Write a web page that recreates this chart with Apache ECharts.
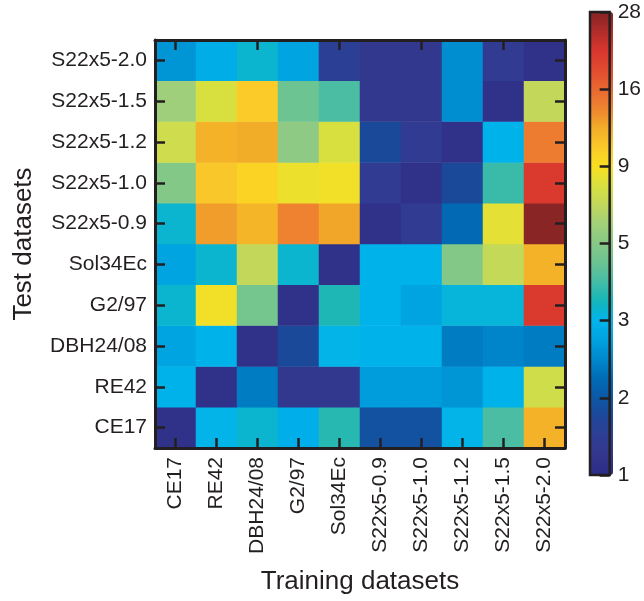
<!doctype html>
<html>
<head>
<meta charset="utf-8">
<script src="https://cdn.jsdelivr.net/npm/echarts@6/dist/echarts.min.js"></script>
<style>
  html, body { margin: 0; padding: 0; background: #fff; }
  #chart { width: 644px; height: 601px; }
</style>
</head>
<body>
<div id="chart"></div>
<script>
// datasets, listed bottom -> top on the y axis and left -> right on the x axis
const datasets = ['CE17', 'RE42', 'DBH24/08', 'G2/97', 'Sol34Ec',
  'S22x5-0.9', 'S22x5-1.0', 'S22x5-1.2', 'S22x5-1.5', 'S22x5-2.0'];

// one row per test dataset, values per training dataset (same order as datasets)
const testCE17     = [1.05, 3.0, 3.2, 2.85, 3.6, 1.6, 1.6, 3.0, 4.0, 11.7];
const testRE42     = [2.9, 1.05, 2.1, 1.15, 1.15, 2.5, 2.5, 2.4, 2.9, 7.5];
const testDBH2408  = [2.6, 2.9, 1.05, 1.5, 3.0, 2.9, 2.9, 2.1, 2.2, 2.1];
const testG297     = [3.2, 8.8, 4.7, 1.05, 3.5, 2.9, 2.6, 3.1, 3.1, 20.5];
const testSol34Ec  = [2.6, 3.2, 6.9, 3.2, 1.05, 2.9, 2.9, 5.1, 7.0, 11.7];
const testS22x5_09 = [3.2, 12.7, 11.5, 14.0, 12.3, 1.05, 1.2, 1.9, 8.3, 27.5];
const testS22x5_10 = [5.1, 10.5, 9.8, 8.6, 8.8, 1.2, 1.05, 1.5, 3.8, 20.5];
const testS22x5_12 = [7.4, 11.7, 12.0, 5.4, 7.9, 1.5, 1.2, 1.05, 2.9, 14.5];
const testS22x5_15 = [5.9, 7.9, 10.3, 4.5, 4.0, 1.15, 1.15, 2.3, 1.05, 6.9];
const testS22x5_20 = [2.4, 2.8, 3.2, 2.6, 1.3, 1.15, 1.15, 2.3, 1.2, 1.05];

const rows = [testCE17, testRE42, testDBH2408, testG297, testSol34Ec,
  testS22x5_09, testS22x5_10, testS22x5_12, testS22x5_15, testS22x5_20];

// colour bar: log scale, 7 equally spaced ticks with rounded labels
const cbarMin = 0.96;
const cbarMax = 28;
const cbarLabels = ['1', '2', '3', '5', '9', '16', '28'];
const cbarSteps = cbarLabels.length - 1;

const palette = ['#2c2c86', '#33368c', '#2e3e94', '#1e4698', '#0c58a6', '#006cb6',
  '#0088cc', '#00a2e0', '#00b4ec', '#14b6ba', '#44bca6', '#6cc492', '#86c886',
  '#a2d07a', '#c2d85c', '#d8e040', '#fae020', '#fac82a', '#f2ac28', '#ee8430',
  '#ea6830', '#e24a30', '#d8362e', '#b02c2a', '#842424'];

const stepRatio = Math.log(cbarMax / cbarMin) / cbarSteps;
function level(v) { return Math.log(v / cbarMin) / stepRatio; }

const cells = [];
rows.forEach((row, yi) => {
  row.forEach((v, xi) => cells.push([xi, yi, level(v), v]));
});

const ink = '#231f20';
const font = 'Liberation Sans, Arial, Helvetica, sans-serif';
const tickStyle = { show: true, inside: true, length: 10, alignWithLabel: true, lineStyle: { color: ink, width: 2.5 } };
const lineStyle = { show: true, lineStyle: { color: ink, width: 3 } };

const chart = echarts.init(document.getElementById('chart'), null, { renderer: 'canvas' });
chart.setOption({
  animation: false,
  backgroundColor: '#fff',
  textStyle: { fontFamily: font, color: ink },
  grid: [
    { left: 155, top: 40, width: 410, height: 408, containLabel: false },
    { left: 590, top: 12, width: 23, height: 463, show: true, z: 10,
      backgroundColor: 'transparent', borderColor: ink, borderWidth: 2.5 }
  ],
  xAxis: [
    { type: 'category', gridIndex: 0, data: datasets, position: 'bottom', z: 5,
      axisLine: lineStyle, axisTick: tickStyle, splitLine: { show: false },
      axisLabel: { rotate: 90, margin: 9, fontSize: 21, color: ink, fontFamily: font },
      name: 'Training datasets', nameLocation: 'middle', nameGap: 121,
      nameTextStyle: { fontSize: 26, color: ink, fontFamily: font } },
    { type: 'category', gridIndex: 0, data: datasets, position: 'top', z: 5,
      axisLine: lineStyle, axisTick: tickStyle, axisLabel: { show: false } },
    { type: 'category', gridIndex: 1, data: [''], show: false }
  ],
  yAxis: [
    { type: 'category', gridIndex: 0, data: datasets, position: 'left', z: 5,
      axisLine: lineStyle, axisTick: tickStyle, splitLine: { show: false },
      axisLabel: { margin: 8, fontSize: 21, color: ink, fontFamily: font },
      name: 'Test datasets', nameLocation: 'middle', nameGap: 118,
      nameTextStyle: { fontSize: 26, color: ink, fontFamily: font } },
    { type: 'category', gridIndex: 0, data: datasets, position: 'right', z: 5,
      axisLine: lineStyle, axisTick: tickStyle, axisLabel: { show: false } },
    { type: 'value', gridIndex: 1, position: 'right', min: 0, max: cbarSteps, interval: 1, z: 10,
      axisLine: { show: false }, splitLine: { show: false },
      axisTick: { show: true, inside: true, length: 10, lineStyle: { color: ink, width: 2.5 } },
      axisLabel: { margin: 8, fontSize: 21, color: ink, fontFamily: font,
        formatter: v => cbarLabels[Math.round(v)] } }
  ],
  visualMap: {
    type: 'continuous', min: 0, max: cbarSteps, dimension: 2, seriesIndex: 0,
    calculable: false, orient: 'vertical', left: 590, top: 12,
    itemWidth: 23, itemHeight: 463, padding: 0, text: null, z: 2,
    inRange: { color: palette }
  },
  series: [{
    type: 'heatmap', xAxisIndex: 0, yAxisIndex: 0, data: cells,
    itemStyle: { borderWidth: 0 }, emphasis: { disabled: true }
  }]
});
</script>
</body>
</html>
